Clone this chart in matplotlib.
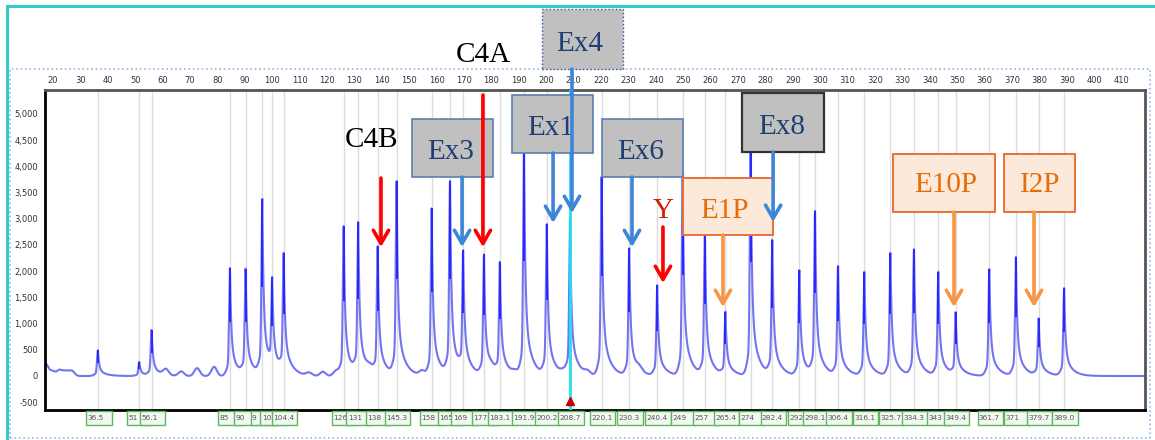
import numpy as np
import matplotlib
matplotlib.use("Agg")
import matplotlib.pyplot as plt
from matplotlib.patches import Rectangle, FancyArrowPatch
from matplotlib.lines import Line2D
from matplotlib.ticker import FuncFormatter
import matplotlib.transforms as mtransforms

# ---------------- data ----------------
peak_bp = [36.4, 51.5, 56.0, 84.6, 90.3, 96.4, 100.0, 104.2, 126.1, 131.4,
           138.5, 145.4, 158.2, 164.9, 169.7, 177.3, 183.1, 191.9, 200.2, 208.7,
           220.2, 230.3, 240.5, 249.8, 257.9, 265.4, 274.6, 282.5, 292.4, 298.1,
           306.5, 316.1, 325.6, 334.2, 343.1, 349.4, 361.7, 371.4, 379.7, 389.0]
peak_rfu = [490, 270, 880, 2060, 2050, 3380, 1890, 2350, 2860, 2940,
            2480, 3720, 3200, 3720, 2400, 2320, 2180, 4400, 2900, 3000,
            3800, 2440, 1730, 3850, 2750, 1230, 4350, 2600, 2020, 3150,
            2100, 1990, 2350, 2420, 1990, 1220, 2040, 2270, 1100, 1680]
size_labels = ["36.5", "51", "56.1", "85", "90", "9", "10", "104.4", "126", "131",
               "138", "145.3", "158", "165", "169", "177", "183.1", "191.9", "200.2", "208.7",
               "220.1", "230.3", "240.4", "249", "257", "265.4", "274", "282.4", "292", "298.1",
               "306.4", "316.1", "325.7", "334.3", "343", "349.4", "361.7", "371", "379.7", "389.0"]
minor_bp = [17.3, 19.8, 22.4, 24.6, 26.8, 61.2, 66.8, 72.6, 78.8, 113.4, 118.5,
            123.3, 135.6, 154.7, 180.0, 188.6, 206.2, 215.0, 234.0]
minor_rfu = [230, 90, 110, 90, 100, 110, 85, 150, 175, 55, 80,
             100, 90, 90, 70, 60, 60, 60, 70]
x_ticks = list(range(20, 420, 10))
y_ticks = list(range(-500, 5001, 500))
selected_bp = 208.7

# annotation layout (data coordinates)
gray_boxes = [  # label, x0, y0, w, h, text x, text baseline
    ("Ex4", 198.5, 5858, 29.5, 1145, 212.3, 6202),
    ("Ex3", 151.0, 3797, 29.6, 1107, 165.0, 4141),
    ("Ex1", 187.5, 4255, 29.6, 1106, 201.5, 4599),
    ("Ex6", 220.4, 3797, 29.6, 1107, 234.6, 4141),
    ("Ex8", 271.5, 4274, 29.9, 1126, 286.0, 4618),
]
orange_boxes = [
    ("E1P", 250.0, 2690, 32.8, 1088, 265.2, 3015),
    ("E10P", 326.6, 3129, 37.2, 1107, 345.8, 3511),
    ("I2P", 367.1, 3129, 25.9, 1107, 380.2, 3511),
]
plain_texts = [("C4A", 176.9, 5992, "black"), ("C4B", 136.2, 4370, "black"),
               ("Y", 242.6, 3015, "#cc2200")]
arrows = [  # x, y_start, y_end, color
    (176.9, 5361, 2460, "#ff0000"),
    (139.7, 3778, 2460, "#ff0000"),
    (169.3, 3797, 2460, "#3d85d6"),
    (202.5, 4255, 2920, "#3d85d6"),
    (231.3, 3797, 2460, "#3d85d6"),
    (242.6, 2843, 1774, "#ff0000"),
    (264.5, 2690, 1316, "#f79646"),
    (348.8, 3129, 1316, "#f79646"),
    (378.0, 3129, 1316, "#f79646"),
    (282.8, 4274, 2940, "#3d85d6"),
    (209.4, 5858, 3110, "#3d85d6"),
]

# ---------------- trace ----------------
def shape(x, x0):
    d = x - x0
    dn = np.minimum(d, 0)
    dp = np.maximum(d, 0)
    left = 0.88 * np.exp(-0.5 * (dn / 0.3) ** 2) + 0.12 * np.exp(-0.5 * (dn / 1.1) ** 2)
    right = 0.72 * np.exp(-dp / 0.45) + 0.28 * np.exp(-dp / 2.4)
    return np.where(d < 0, left, right)

xs = np.arange(17.0, 418.6, 0.02)
pb = np.array(peak_bp)
pr = np.array(peak_rfu, dtype=float)
mb = np.array(minor_bp)
mr = np.array(minor_rfu, dtype=float)

def minor_at(x):
    x = np.atleast_1d(x)
    out = np.zeros_like(x, dtype=float)
    for b, r in zip(mb, mr):
        out += r * np.exp(-0.5 * ((x - b) / 1.0) ** 2)
    return out

A = np.array([[shape(np.array([xi]), xj)[0] for xj in pb] for xi in pb])
amps = np.linalg.solve(A, pr - minor_at(pb))
trace = minor_at(xs)
for b, h in zip(pb, amps):
    trace += h * shape(xs, b)

# ---------------- figure ----------------
W, H = 1155, 440
fig = plt.figure(figsize=(W / 100, H / 100), dpi=100)
ax = fig.add_axes([45 / W, 1 - 410 / H, 1100 / W, 320 / H])
ax.set_xlim(17.1, 418.5)
ax.set_ylim(-649, 5458)

for b in pb:
    ax.axvline(b, color="#dcdcdc", lw=1.0, zorder=1)

ax.plot(xs, trace, color="#7474f2", lw=1.5, zorder=2)
ax.vlines(pb, pr * 0.5, pr, color="#2222ff", lw=1.3, zorder=2)

ax.axvline(selected_bp, color="#1ee0f0", lw=2, zorder=3)
ax.plot([selected_bp], [-470], marker="^", color="#c00000", ms=6, zorder=4, clip_on=False)

# axes styling
ax.xaxis.tick_top()
ax.set_xticks(x_ticks)
ax.set_yticks(y_ticks)
ax.yaxis.set_major_formatter(FuncFormatter(lambda v, p: f"{int(v):,}"))
ax.tick_params(axis="x", length=0, pad=3.5, labelsize=6, labelcolor="#333333")
ax.tick_params(axis="y", length=0, pad=5, labelsize=6, labelcolor="#333333")
for s in ["left", "bottom"]:
    ax.spines[s].set_color("black")
    ax.spines[s].set_linewidth(2)
for s in ["top", "right"]:
    ax.spines[s].set_color("#555555")
    ax.spines[s].set_linewidth(2)

# sizing labels below the axis
trans = mtransforms.blended_transform_factory(ax.transData, ax.transAxes)
for i, (b, lab) in enumerate(zip(pb, size_labels)):
    r = Rectangle((b - 4.3, -0.047), 9.3, 0.044, transform=trans, clip_on=False,
                  facecolor="#f3f8f3", edgecolor="#5cb85c", lw=1.0, zorder=20 + 2 * i)
    ax.add_patch(r)
    t = ax.text(b - 3.8, -0.025, lab, transform=trans, ha="left", va="center",
                fontsize=5.3, color="#555555", zorder=21 + 2 * i)
    t.set_clip_on(True)
    t.set_clip_path(r)

serif = "Liberation Serif"
for lab, x0, y0, w, h, tx, ty in gray_boxes:
    if lab == "Ex4":
        ec, ls, lw = "#2e5597", ":", 1.0
    elif lab == "Ex8":
        ec, ls, lw = "#333333", "-", 1.6
    else:
        ec, ls, lw = "#5b7fb0", "-", 1.2
    ax.add_patch(Rectangle((x0, y0), w, h, facecolor="#c0c0c0", edgecolor=ec,
                           linestyle=ls, lw=lw, clip_on=False, zorder=100))
    ax.text(tx, ty, lab, ha="center", va="baseline", fontsize=21, family=serif,
            color="#1f3f73", clip_on=False, zorder=101)

for lab, x0, y0, w, h, tx, ty in orange_boxes:
    ax.add_patch(Rectangle((x0, y0), w, h, facecolor="#fde9d9", edgecolor="#e8703a",
                           lw=1.4, clip_on=False, zorder=100))
    ax.text(tx, ty, lab, ha="center", va="baseline", fontsize=21, family=serif,
            color="#e46c0a", clip_on=False, zorder=101)

for lab, tx, ty, c in plain_texts:
    ax.text(tx, ty, lab, ha="center", va="baseline", fontsize=21, family=serif,
            color=c, clip_on=False, zorder=101)

for x, y0, y1, c in arrows:
    ar = FancyArrowPatch((x, y0), (x, y1), arrowstyle="->,head_length=0.95,head_width=0.55",
                         mutation_scale=10, color=c, lw=2.6, shrinkA=0, shrinkB=0,
                         clip_on=False, zorder=110)
    ax.add_patch(ar)

# frames (figure pixel coordinates)
def fx(px):
    return px / W

def fy(py):
    return 1 - py / H

fig.add_artist(Line2D([fx(7), fx(1155)], [fy(6), fy(6)], color="#33cccc", lw=2.2))
fig.add_artist(Line2D([fx(7), fx(7)], [fy(6), fy(440)], color="#33cccc", lw=2.2))
fig.add_artist(Rectangle((fx(10), fy(438)), fx(1150) - fx(10), fy(69) - fy(438),
                         transform=fig.transFigure, fill=False, edgecolor="#8fb8e6",
                         linestyle=":", lw=1.2, zorder=0))

fig.savefig("out.png", dpi=100)
